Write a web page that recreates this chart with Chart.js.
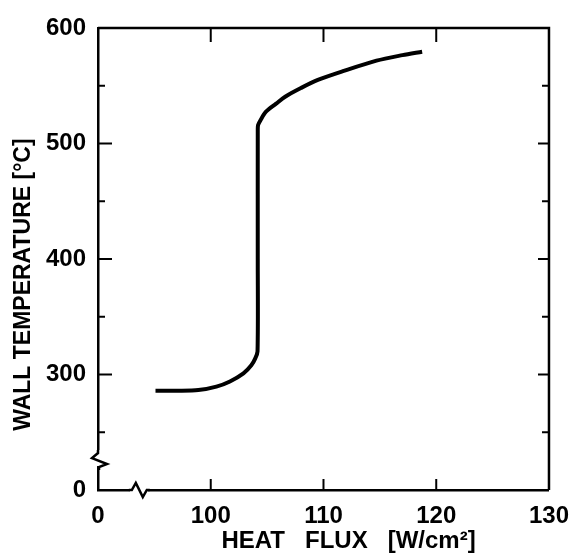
<!DOCTYPE html>
<html>
<head>
<meta charset="utf-8">
<script src="https://cdn.jsdelivr.net/npm/chart.js@4.4.1/dist/chart.umd.min.js"></script>
<style>
  html, body { margin: 0; padding: 0; background: #fff; }
  #wrap { width: 581px; height: 556px; }
</style>
</head>
<body>
<div id="wrap"><canvas id="c" width="581" height="556"></canvas></div>
<script>
// ---- data ----
const heatFlux = [95.1, 97.0, 98.9, 100.5, 101.7, 102.9, 103.6, 103.95, 104.15, 104.17, 104.17, 104.2, 104.4, 104.9, 105.8, 106.6, 108.0, 109.5, 111.8, 114.7, 117.0, 118.75];
const wallTemp = [286, 286, 286.5, 289.5, 294, 301, 308, 314, 320, 400, 512, 516, 520, 527.5, 534.5, 540.5, 548, 555, 562.8, 571.7, 576.5, 579.5];

// ---- axes (broken axes: lowest tick labelled "0") ----
const xTickValues = [90, 100, 110, 120, 130];
const xTickLabels = ['0', '100', '110', '120', '130'];
const xInnerTicks = [100, 110, 120];
const yTickValues = [200, 300, 400, 500, 600];
const yTickLabels = ['0', '300', '400', '500', '600'];
const yMajorInner = [300, 400, 500];
const yMinorInner = [250, 350, 450, 550];
const xBreakAt = 93;
const yBreakAt = 232;

const xTitle = 'HEAT   FLUX   [W/cm²]' + ' '.repeat(11);
const yTitle = 'WALL TEMPERATURE [°C]' + ' '.repeat(8);

const FONT = "'Liberation Sans', Arial, sans-serif";

const frameTicks = {
  id: 'frameTicks',
  afterDraw(chart) {
    const ctx = chart.ctx;
    const xs = chart.scales.x, ys = chart.scales.y;
    const a = chart.chartArea;
    ctx.save();
    ctx.strokeStyle = '#000';
    ctx.lineCap = 'butt';
    ctx.lineWidth = 2.5;
    ctx.beginPath();
    ctx.moveTo(a.left, a.top); ctx.lineTo(a.right, a.top); ctx.lineTo(a.right, a.bottom);
    ctx.stroke();
    ctx.lineWidth = 2;
    xInnerTicks.forEach(v => {
      const px = xs.getPixelForValue(v);
      ctx.beginPath(); ctx.moveTo(px, a.bottom); ctx.lineTo(px, a.bottom - 11); ctx.stroke();
      ctx.beginPath(); ctx.moveTo(px, a.top); ctx.lineTo(px, a.top + 14); ctx.stroke();
    });
    yMajorInner.forEach(v => {
      const py = ys.getPixelForValue(v);
      ctx.beginPath(); ctx.moveTo(a.left, py); ctx.lineTo(a.left + 14, py); ctx.stroke();
      ctx.beginPath(); ctx.moveTo(a.right, py); ctx.lineTo(a.right - 11, py); ctx.stroke();
    });
    yMinorInner.forEach(v => {
      const py = ys.getPixelForValue(v);
      ctx.beginPath(); ctx.moveTo(a.left, py); ctx.lineTo(a.left + 7, py); ctx.stroke();
      ctx.beginPath(); ctx.moveTo(a.right, py); ctx.lineTo(a.right - 7, py); ctx.stroke();
    });
    ctx.lineWidth = 2.5;
    const by = ys.getPixelForValue(yBreakAt);
    ctx.fillStyle = '#fff';
    ctx.fillRect(a.left - 3, by - 3, 6, 16);
    ctx.beginPath();
    ctx.moveTo(a.left, by - 3);
    ctx.lineTo(a.left, by);
    ctx.lineTo(a.left - 6, by + 5);
    ctx.lineTo(a.left + 9, by + 11);
    ctx.lineTo(a.left + 1, by + 14);
    ctx.lineTo(a.left + 1, by + 17);
    ctx.stroke();
    const bx = xs.getPixelForValue(xBreakAt);
    ctx.fillRect(bx - 2, a.bottom - 3, 18, 6);
    ctx.beginPath();
    ctx.moveTo(bx - 3, a.bottom);
    ctx.lineTo(bx, a.bottom);
    ctx.lineTo(bx + 4, a.bottom - 7);
    ctx.lineTo(bx + 11, a.bottom + 7);
    ctx.lineTo(bx + 15, a.bottom);
    ctx.lineTo(bx + 18, a.bottom);
    ctx.stroke();
    ctx.restore();
  }
};

new Chart(document.getElementById('c'), {
  type: 'line',
  data: {
    datasets: [{
      data: heatFlux.map((x, i) => ({ x, y: wallTemp[i] })),
      borderColor: '#000',
      borderWidth: 4,
      pointRadius: 0,
      tension: 0.3,
      fill: false
    }]
  },
  options: {
    responsive: false,
    animation: false,
    events: [],
    layout: { padding: { top: 28, right: 21, left: 0, bottom: 0 } },
    plugins: { legend: { display: false }, tooltip: { enabled: false } },
    scales: {
      x: {
        type: 'linear', min: 90, max: 130,
        afterBuildTicks(s) { s.ticks = xTickValues.map(v => ({ value: v })); },
        afterFit(s) { s.height = 66; },
        grid: { display: false, drawTicks: false },
        border: { display: true, color: '#000', width: 2.5 },
        ticks: {
          color: '#000', padding: 12, maxRotation: 0,
          font: { family: FONT, size: 24, weight: 'bold' },
          callback(v) { const i = xTickValues.indexOf(v); return i >= 0 ? xTickLabels[i] : ''; }
        },
        title: {
          display: true, text: xTitle, color: '#000', align: 'end',
          font: { family: FONT, size: 24, weight: 'bold' },
          padding: { top: 0, bottom: 0 }
        }
      },
      y: {
        type: 'linear', min: 200, max: 600,
        afterBuildTicks(s) { s.ticks = yTickValues.map(v => ({ value: v })); },
        afterFit(s) { s.width = 98; },
        grid: { display: false, drawTicks: false },
        border: { display: true, color: '#000', width: 2.5 },
        ticks: {
          color: '#000', padding: 12,
          font: { family: FONT, size: 24, weight: 'bold' },
          callback(v) { const i = yTickValues.indexOf(v); return i >= 0 ? yTickLabels[i] : ''; }
        },
        title: {
          display: true, text: yTitle, color: '#000',
          font: { family: FONT, size: 23, weight: 'bold' },
          padding: { top: 10, bottom: 0 }
        }
      }
    }
  },
  plugins: [frameTicks]
});
</script>
</body>
</html>
